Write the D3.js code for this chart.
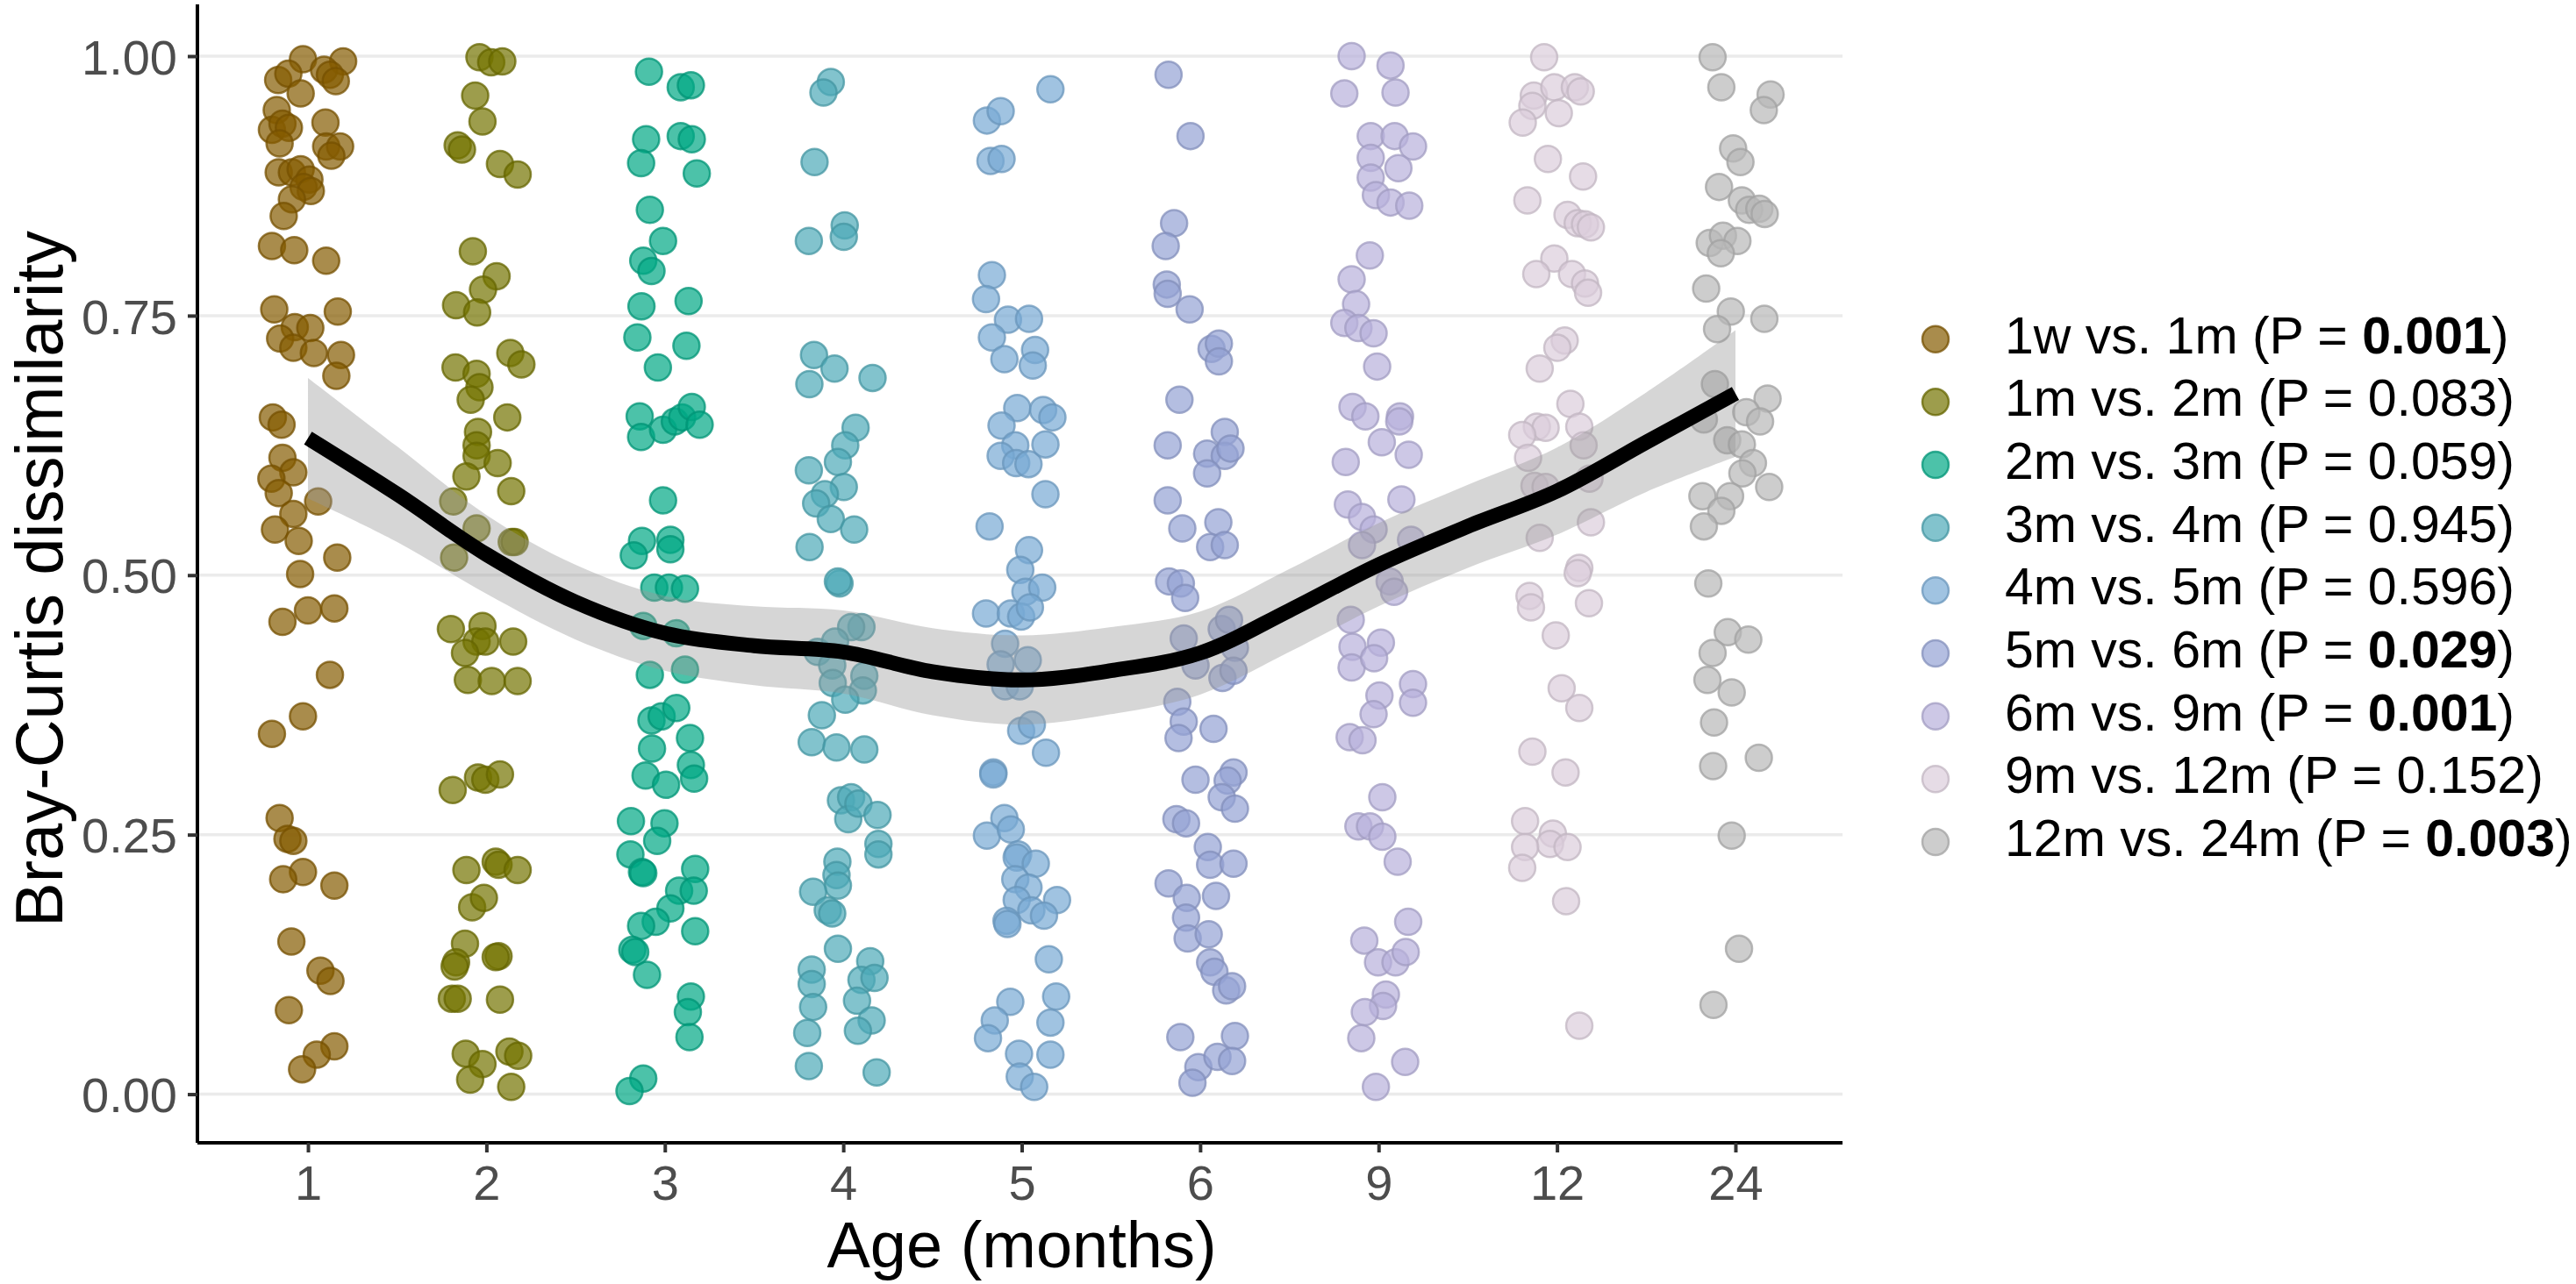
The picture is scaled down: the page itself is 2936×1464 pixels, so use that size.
<!DOCTYPE html>
<html>
<head>
<meta charset="utf-8">
<script src="https://cdn.jsdelivr.net/npm/d3@7"></script>
<style>
  body { margin: 0; background: #fff; }
  svg { display: block; font-family: 'Liberation Sans', Arial, sans-serif; }
</style>
</head>
<body>
<div id="chart"></div>
<script>
// x categories (age in months)
const ages = ['1', '2', '3', '4', '5', '6', '9', '12', '24']
const yTicks = [0, 0.25, 0.5, 0.75, 1]

// legend: comparison label, P value, bold (significant)
const comparisons = ['1w vs. 1m', '1m vs. 2m', '2m vs. 3m', '3m vs. 4m', '4m vs. 5m', '5m vs. 6m', '6m vs. 9m', '9m vs. 12m', '12m vs. 24m']
const pValues = ['0.001', '0.083', '0.059', '0.945', '0.596', '0.029', '0.001', '0.152', '0.003']
const pBold = [true, false, false, false, false, true, true, false, true]
const colors = ['#855b00', '#747400', '#00a884', '#4da9b8', '#77a9d4', '#94a2d4', '#b8b1db', '#dbcddb', '#b8b8b8']

// points per age: [jitter offset (category units), Bray-Curtis dissimilarity]
const d1 = [[-.028,.997],[.197,.995],[.090,.987],[.123,.982],[.156,.976],[-.167,.977],[-.110,.983],[-.041,.964],[-.175,.948],[.098,.936],[-.202,.929],[-.143,.935],[-.107,.931],[-.159,.916],[.102,.913],[.180,.913],[.131,.904],[-.164,.888],[-.090,.888],[-.041,.891],[.008,.881],[-.025,.874],[.016,.870],[-.090,.862],[-.136,.846],[-.202,.817],[-.077,.813],[.102,.803],[-.189,.756],[.167,.754],[-.074,.739],[.013,.738],[-.156,.728],[-.082,.719],[.033,.714],[.185,.712],[.159,.692],[-.197,.652],[-.148,.645],[-.143,.613],[-.082,.599],[-.205,.593],[-.164,.579],[.057,.571],[-.082,.559],[-.185,.544],[-.052,.533],[.164,.517],[-.044,.501],[0,.466],[.148,.468],[-.143,.455],[.123,.404],[-.028,.364],[-.202,.347],[-.159,.266],[-.115,.246],[-.082,.244],[-.028,.214],[-.139,.207],[.148,.201],[-.093,.147],[.070,.119],[.126,.109],[-.107,.081],[.148,.046],[.049,.038],[-.033,.024]]
const d2 = [[-.039,.999],[.027,.994],[.089,.995],[-.063,.962],[-.022,.937],[-.161,.914],[-.137,.910],[.076,.896],[.175,.886],[-.076,.812],[.057,.788],[-.019,.775],[-.170,.760],[-.052,.753],[-.173,.700],[-.055,.694],[.134,.714],[.196,.703],[-.039,.681],[-.088,.669],[.117,.652],[-.047,.638],[-.055,.625],[-.055,.615],[.063,.608],[-.112,.595],[.139,.581],[-.186,.571],[-.055,.545],[.142,.532],[.158,.532],[-.181,.517],[-.199,.448],[-.022,.451],[-.055,.436],[-.006,.436],[-.120,.425],[.150,.436],[-.104,.399],[.030,.398],[.175,.398],[-.189,.293],[-.047,.305],[-.006,.303],[.076,.308],[-.112,.216],[.052,.224],[.068,.221],[.175,.216],[-.080,.180],[-.014,.189],[-.120,.145],[-.170,.127],[-.178,.123],[.068,.133],[.052,.132],[-.194,.092],[-.161,.092],[.076,.091],[-.116,.039],[-.022,.029],[.129,.041],[.178,.037],[-.091,.014],[.139,.007]]
const d3v = [[-.089,.985],[.089,.970],[.146,.972],[-.105,.920],[.089,.923],[.151,.920],[-.133,.897],[.179,.887],[-.084,.852],[-.010,.822],[-.121,.803],[-.075,.793],[-.131,.759],[.133,.764],[-.154,.729],[.121,.721],[-.039,.700],[-.141,.653],[-.133,.633],[-.010,.640],[.056,.648],[.097,.652],[.151,.662],[.195,.645],[-.010,.572],[-.128,.533],[-.174,.519],[.031,.534],[.031,.525],[-.059,.488],[.023,.488],[.113,.487],[-.121,.451],[.064,.444],[-.084,.404],[.113,.409],[-.075,.360],[-.018,.364],[.064,.372],[-.072,.333],[.141,.343],[-.108,.307],[.007,.298],[.146,.317],[.164,.304],[-.190,.263],[-.002,.261],[-.043,.244],[-.193,.231],[-.128,.214],[-.121,.213],[.170,.217],[.080,.196],[.162,.196],[.031,.179],[-.051,.166],[-.133,.162],[.170,.157],[-.182,.139],[-.166,.137],[-.100,.115],[.146,.094],[.129,.079],[.138,.055],[-.121,.015],[-.198,.003]]
const d4 = [[-.070,.975],[-.111,.965],[-.161,.898],[-.193,.822],[.008,.837],[.003,.826],[-.164,.712],[-.049,.699],[.164,.690],[-.190,.684],[.069,.642],[.011,.625],[-.030,.609],[-.193,.601],[.003,.585],[-.103,.578],[-.152,.569],[-.070,.554],[.061,.544],[-.189,.527],[-.021,.492],[-.030,.494],[.102,.450],[.044,.450],[-.144,.426],[-.046,.436],[-.062,.413],[-.059,.396],[.118,.403],[.110,.389],[.011,.380],[-.120,.365],[-.177,.339],[-.038,.334],[.118,.332],[-.013,.283],[.044,.286],[.028,.265],[.085,.280],[.192,.269],[.197,.241],[.197,.231],[-.033,.224],[-.038,.211],[-.030,.201],[-.169,.195],[-.087,.177],[-.062,.174],[-.030,.140],[-.177,.120],[-.177,.106],[.151,.128],[.102,.110],[.175,.112],[-.169,.084],[.077,.090],[.159,.071],[-.202,.059],[.082,.061],[-.193,.027],[.187,.021]]
const d5 = [[.161,.968],[-.195,.938],[-.118,.947],[-.175,.899],[-.113,.901],[-.167,.789],[-.200,.766],[-.077,.746],[.041,.747],[-.167,.729],[-.097,.708],[.075,.717],[.062,.702],[-.025,.661],[-.113,.644],[.120,.659],[.172,.652],[-.036,.625],[-.118,.615],[-.031,.608],[.038,.607],[.133,.626],[.133,.578],[-.180,.547],[.041,.524],[-.008,.505],[.021,.484],[.115,.488],[-.200,.463],[-.061,.463],[-.003,.460],[.046,.469],[-.093,.434],[-.118,.414],[.034,.418],[-.093,.393],[-.011,.393],[-.003,.350],[.057,.356],[.136,.329],[-.159,.310],[-.159,.308],[-.097,.266],[-.195,.249],[-.061,.255],[-.020,.231],[-.028,.228],[.079,.222],[-.036,.207],[.038,.199],[-.028,.187],[.054,.177],[.198,.187],[.125,.172],[-.085,.167],[-.080,.164],[.152,.130],[.193,.094],[-.064,.089],[-.151,.071],[-.189,.054],[.161,.069],[-.015,.039],[.161,.038],[-.011,.017],[.070,.007]]
const d6 = [[-.177,.982],[-.054,.923],[-.146,.839],[-.193,.817],[-.187,.780],[-.182,.771],[-.059,.756],[.064,.718],[.105,.723],[.105,.706],[-.116,.669],[.138,.638],[-.182,.625],[.039,.617],[.138,.615],[.039,.598],[.170,.622],[-.182,.572],[-.100,.545],[.102,.551],[.056,.527],[.138,.529],[-.174,.494],[-.108,.492],[-.084,.478],[-.092,.439],[.121,.448],[.162,.457],[.195,.430],[-.026,.413],[.125,.401],[.187,.408],[-.128,.378],[-.092,.359],[-.121,.343],[.075,.352],[-.026,.303],[.187,.310],[.154,.302],[.121,.286],[.195,.275],[-.133,.265],[-.079,.261],[.043,.238],[.056,.221],[.187,.222],[-.177,.203],[-.075,.189],[.089,.191],[-.079,.170],[-.070,.150],[.048,.154],[.056,.127],[.080,.118],[.146,.100],[.179,.104],[-.111,.055],[.195,.056],[-.010,.026],[.097,.036],[.179,.032],[-.043,.011]]
const d9 = [[-.151,1.0],[.067,.991],[-.192,.964],[.095,.965],[-.044,.923],[.090,.923],[.193,.913],[-.044,.902],[.111,.892],[-.044,.883],[-.015,.866],[.067,.859],[.172,.856],[-.049,.808],[-.151,.785],[-.126,.761],[-.192,.743],[-.113,.738],[-.028,.733],[-.008,.701],[-.146,.662],[-.074,.653],[.120,.653],[.116,.648],[.018,.628],[.169,.616],[-.184,.609],[.128,.573],[-.172,.568],[-.093,.556],[-.028,.544],[-.093,.529],[.182,.534],[.062,.494],[.087,.484],[-.156,.457],[-.146,.431],[.013,.435],[-.151,.411],[-.025,.420],[.005,.384],[.193,.395],[.193,.377],[-.028,.366],[-.162,.344],[-.090,.341],[.021,.286],[-.113,.258],[-.048,.258],[.021,.248],[.107,.224],[.166,.166],[-.080,.148],[-.003,.127],[.095,.127],[.152,.137],[.041,.096],[.025,.085],[-.077,.079],[-.097,.054],[.149,.031],[-.015,.007]]
const d12 = [[-.072,.999],[-.130,.962],[-.015,.970],[.100,.970],[.133,.966],[-.138,.952],[-.192,.936],[.010,.945],[-.051,.901],[.146,.884],[-.166,.861],[.059,.847],[.116,.839],[.157,.838],[.190,.835],[-.015,.805],[-.116,.790],[.084,.790],[.157,.781],[.174,.772],[.043,.726],[.002,.719],[-.097,.699],[.075,.665],[-.113,.643],[-.064,.642],[.125,.643],[-.195,.635],[-.162,.613],[.149,.625],[-.126,.586],[-.064,.585],[.182,.593],[.190,.551],[-.097,.536],[.125,.507],[.116,.502],[-.154,.480],[-.146,.469],[.179,.473],[-.007,.442],[.026,.391],[.125,.372],[-.138,.330],[.048,.310],[-.179,.263],[-.023,.251],[-.039,.241],[-.179,.238],[.059,.238],[-.195,.218],[.051,.186],[.125,.066]]
const d24 = [[-.128,.999],[-.079,.970],[.197,.963],[.159,.948],[-.013,.911],[.028,.898],[-.092,.874],[.036,.861],[.077,.852],[.134,.853],[.164,.848],[-.144,.820],[-.070,.827],[.011,.822],[-.082,.810],[-.164,.776],[-.026,.754],[.162,.747],[-.103,.737],[-.115,.684],[-.177,.650],[.180,.670],[.061,.657],[.138,.648],[-.046,.630],[.036,.626],[.098,.608],[.039,.598],[.189,.585],[-.185,.576],[-.030,.576],[-.079,.562],[-.177,.547],[-.152,.492],[-.043,.445],[.072,.438],[-.128,.425],[-.157,.399],[-.021,.387],[-.120,.358],[.131,.324],[-.125,.316],[-.021,.249],[.020,.140],[-.123,.086]]
const groups = [d1, d2, d3v, d4, d5, d6, d9, d12, d24]

// loess fit, every half category (index 0..8)
const smoothX = [0, 0.5, 1, 1.5, 2, 2.5, 3, 3.5, 4, 4.5, 5, 5.5, 6, 6.5, 7, 7.5, 8]
const smoothY = [0.632, 0.578, 0.520, 0.474, 0.444, 0.432, 0.426, 0.407, 0.399, 0.408, 0.425, 0.466, 0.510, 0.547, 0.581, 0.628, 0.675]
const smoothSe = [0.058, 0.046, 0.038, 0.036, 0.036, 0.038, 0.040, 0.042, 0.043, 0.042, 0.040, 0.040, 0.040, 0.040, 0.042, 0.048, 0.061]

const W = 2936, H = 1464
const panel = { left: 225, right: 2100, top: 5, bottom: 1303 }

const svg = d3.select('#chart').append('svg')
  .attr('width', W).attr('height', H)

const x = d3.scalePoint().domain(ages).range([229, panel.right]).padding(0.6)
const xi = d3.scaleLinear().domain([0, ages.length - 1]).range([x(ages[0]), x(ages[ages.length - 1])])
const step = x.step()

const allY = groups.flat().map(d => d[1])
const [lo, hi] = d3.extent(allY)
const pad = (hi - lo) * 0.05
const y = d3.scaleLinear().domain([lo - pad, hi + pad]).range([panel.bottom, panel.top])

// grid
svg.append('g').selectAll('line').data(yTicks).join('line')
  .attr('x1', panel.left).attr('x2', panel.right)
  .attr('y1', d => y(d)).attr('y2', d => y(d))
  .attr('stroke', '#ebebeb').attr('stroke-width', 3.5)

// points
groups.forEach((g, i) => {
  const c = colors[i]
  svg.append('g').selectAll('circle').data(g).join('circle')
    .attr('cx', d => x(ages[i]) + d[0] * step)
    .attr('cy', d => y(d[1]))
    .attr('r', 15)
    .attr('fill', c).attr('fill-opacity', 0.7)
    .attr('stroke', d3.color(c).darker(0.35)).attr('stroke-opacity', 0.75)
    .attr('stroke-width', 2.5)
})

// smooth band + line
const sm = smoothX.map((v, i) => ({ x: v, y: smoothY[i], se: smoothSe[i] }))
svg.append('path').datum(sm)
  .attr('d', d3.area().curve(d3.curveCatmullRom)
    .x(d => xi(d.x)).y0(d => y(d.y - d.se)).y1(d => y(d.y + d.se)))
  .attr('fill', '#999').attr('fill-opacity', 0.4)
svg.append('path').datum(sm)
  .attr('d', d3.line().curve(d3.curveCatmullRom).x(d => xi(d.x)).y(d => y(d.y)))
  .attr('fill', 'none').attr('stroke', '#000').attr('stroke-width', 17)

// axes
const gx = svg.append('g').attr('transform', `translate(0,${panel.bottom})`)
  .call(d3.axisBottom(x).tickSize(11).tickPadding(14))
const gy = svg.append('g').attr('transform', `translate(${panel.left},0)`)
  .call(d3.axisLeft(y).tickValues(yTicks).tickFormat(d3.format('.2f')).tickSize(11).tickPadding(12))
;[gx, gy].forEach(g => {
  g.select('.domain').attr('stroke', '#000').attr('stroke-width', 4)
  g.selectAll('.tick line').attr('stroke', '#333').attr('stroke-width', 4)
  g.selectAll('.tick text').attr('fill', '#4d4d4d').style('font-size', '56px')
    .style('font-family', "'Liberation Sans', Arial, sans-serif")
})
gx.select('.domain').attr('d', `M${panel.left},0H${panel.right}`)
gy.select('.domain').attr('d', `M0,${panel.top}V${panel.bottom}`)
gx.selectAll('.tick text').attr('dy', '0.71em')
gy.selectAll('.tick text').attr('dy', '0.36em')

svg.append('text')
  .attr('x', (229 + panel.right) / 2).attr('y', 1445)
  .attr('text-anchor', 'middle').style('font-size', '74px')
  .text('Age (months)')
svg.append('text')
  .attr('transform', `translate(71,660) rotate(-90)`)
  .attr('text-anchor', 'middle').style('font-size', '76px')
  .text('Bray-Curtis dissimilarity')

// legend
const lg = svg.append('g')
comparisons.forEach((lab, i) => {
  const cy = 386.7 + i * 71.66
  lg.append('circle').attr('cx', 2206).attr('cy', cy).attr('r', 15)
    .attr('fill', colors[i]).attr('fill-opacity', 0.7)
    .attr('stroke', d3.color(colors[i]).darker(0.35)).attr('stroke-opacity', 0.75)
    .attr('stroke-width', 2.5)
  const t = lg.append('text').attr('x', 2285).attr('y', cy + 16).style('font-size', '59px')
  t.append('tspan').text(`${lab} (P = `)
  t.append('tspan').attr('font-weight', pBold[i] ? 'bold' : 'normal').text(pValues[i])
  t.append('tspan').text(')')
})
</script>
</body>
</html>
